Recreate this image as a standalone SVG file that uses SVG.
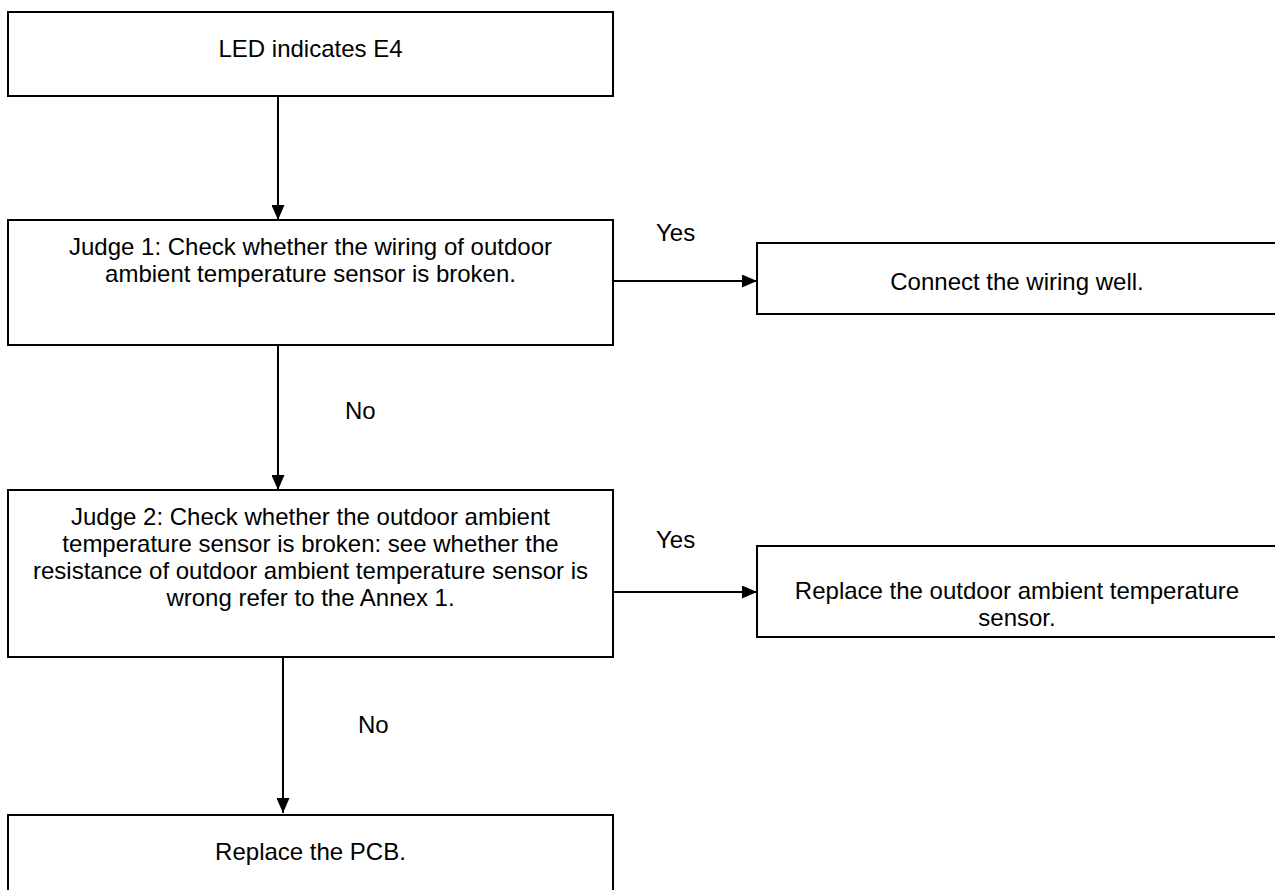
<svg xmlns="http://www.w3.org/2000/svg" width="1275" height="890" viewBox="0 0 1275 890">
<defs>
<marker id="ah" markerWidth="15" markerHeight="13" refX="15" refY="6.5" orient="auto" markerUnits="userSpaceOnUse" viewBox="0 0 15 13">
<path d="M0,0 L15,6.5 L0,13 Z" fill="#000"/>
</marker>
<style>
.box{fill:#fff;stroke:#000;stroke-width:2}
.t{font-family:"Liberation Sans",Arial,sans-serif;font-size:24px;fill:#000;text-anchor:middle}
.l{font-family:"Liberation Sans",Arial,sans-serif;font-size:24px;fill:#000}
.c{stroke:#000;stroke-width:2;fill:none;marker-end:url(#ah)}
</style>
</defs>
<rect width="1275" height="890" fill="#fff"/>
<g id="connectors">
<line class="c" x1="278" y1="96" x2="278" y2="220"/>
<line class="c" x1="613" y1="281" x2="757" y2="281"/>
<line class="c" x1="278" y1="345" x2="278" y2="490"/>
<line class="c" x1="613" y1="592" x2="757" y2="592"/>
<line class="c" x1="283" y1="657" x2="283" y2="813"/>
<text class="l" x="656" y="241">Yes</text>
<text class="l" x="345" y="419">No</text>
<text class="l" x="656" y="548">Yes</text>
<text class="l" x="358" y="733">No</text>
</g>
<g id="n1">
<rect class="box" x="8" y="12" width="605" height="84"/>
<text class="t" x="310.5" y="57">LED indicates E4</text>
</g>
<g id="n2">
<rect class="box" x="8" y="220" width="605" height="125"/>
<text class="t" x="310.5" y="255">Judge 1: Check whether the wiring of outdoor</text>
<text class="t" x="310.5" y="282">ambient temperature sensor is broken.</text>
</g>
<g id="n3">
<rect class="box" x="757" y="243" width="530" height="71"/>
<text class="t" x="1017" y="290">Connect the wiring well.</text>
</g>
<g id="n4">
<rect class="box" x="8" y="490" width="605" height="167"/>
<text class="t" x="310.5" y="525">Judge 2: Check whether the outdoor ambient</text>
<text class="t" x="310.5" y="552">temperature sensor is broken: see whether the</text>
<text class="t" x="310.5" y="579">resistance of outdoor ambient temperature sensor is</text>
<text class="t" x="310.5" y="606">wrong refer to the Annex 1.</text>
</g>
<g id="n5">
<rect class="box" x="757" y="546" width="530" height="91"/>
<text class="t" x="1017" y="599">Replace the outdoor ambient temperature</text>
<text class="t" x="1017" y="626">sensor.</text>
</g>
<g id="n6">
<rect class="box" x="8" y="815" width="605" height="90"/>
<text class="t" x="310.5" y="860">Replace the PCB.</text>
</g>
</svg>
